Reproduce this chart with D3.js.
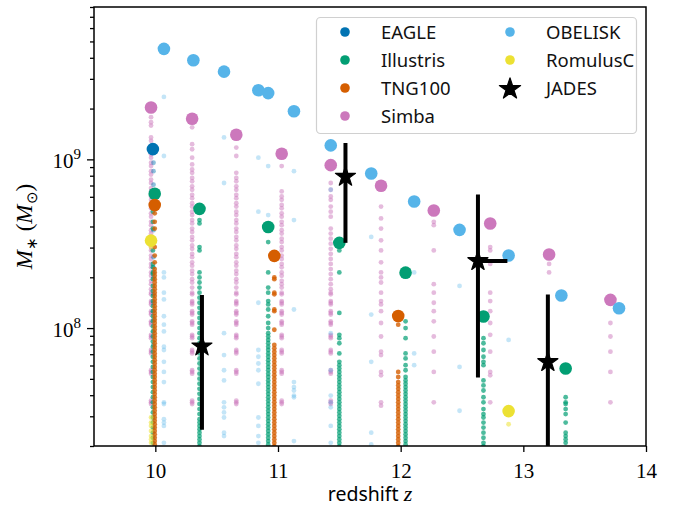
<!DOCTYPE html>
<html>
<head>
<meta charset="utf-8">
<script src="https://cdn.jsdelivr.net/npm/d3@7"></script>
<style>
  body { margin: 0; background: #fff; }
  svg { display: block; }
  .axis path.domain { display: none; }
  .axis line { stroke: #000; stroke-width: 1.3; }
  .axis text { font-family: "Liberation Serif", serif; font-size: 21px; fill: #000; }
  .legend text { font-family: "Noto Sans", sans-serif; font-size: 18.5px; fill: #111; }
</style>
</head>
<body>
<svg id="chart" width="683" height="508"></svg>
<script>
// ---- data ----
var xTicks = [10, 11, 12, 13, 14];
var yMajor = [1e8, 1e9], yMajorExp = ["8", "9"];
var yMinor = [2e7,3e7,4e7,5e7,6e7,7e7,8e7,9e7,2e8,3e8,4e8,5e8,6e8,7e8,8e8,9e8,2e9,3e9,4e9,5e9,6e9,7e9,8e9];

// medians (big dots)
var eagleZ = [9.98], eagleM = [1.15e9];
var illustrisZ = [9.995, 10.36, 10.92, 11.50, 12.04, 12.675, 13.345];
var illustrisM = [6.25e8, 5.09e8, 3.97e8, 3.2e8, 2.13e8, 1.17e8, 5.76e7];
var tngZ = [9.995, 10.97, 11.98];
var tngM = [5.36e8, 2.68e8, 1.18e8];
var simbaZ = [9.965, 10.30, 10.66, 11.03, 11.43, 11.84, 12.27, 12.73, 13.21, 13.71];
var simbaM = [2.03e9, 1.74e9, 1.40e9, 1.08e9, 9.24e8, 6.97e8, 4.98e8, 4.17e8, 2.73e8, 1.47e8];
var obeliskZ = [10.07, 10.31, 10.56, 10.84, 10.92, 11.13, 11.43, 11.76, 12.11, 12.48, 12.88, 13.31, 13.78];
var obeliskM = [4.52e9, 3.87e9, 3.31e9, 2.57e9, 2.47e9, 1.93e9, 1.21e9, 8.24e8, 5.63e8, 3.82e8, 2.69e8, 1.56e8, 1.31e8];
var romulusZ = [9.965, 12.88], romulusM = [3.3e8, 3.22e7];

// JADES galaxies with error bars
var jadesZ = [10.38, 11.55, 12.63, 13.20];
var jadesZLo = [10.38, 11.55, 12.60, 13.20];
var jadesZHi = [10.38, 11.55, 12.87, 13.20];
var jadesM = [7.8e7, 7.9e8, 2.5e8, 6.3e7];
var jadesMLo = [2.5e7, 3.2e8, 5.1e7, 1.0e7];
var jadesMHi = [1.57e8, 1.25e9, 6.2e8, 1.58e8];

// individual galaxies (log10 M*), one column per snapshot
var simbaSteps = [8.21,8.20,8.16,8.15,8.14,8.10,8.09,8.08,8.04,8.03,8.02,7.96,7.95,7.94,7.87,7.86,7.85,7.75,7.74,7.73,7.57,7.56,7.55];
var simbaCloud = [
  {z: 9.965, m: [9.25,9.22,9.20,9.13,9.11,9.08,9.06,9.03,9.01,8.98,8.96,8.93,8.91,8.88,8.86,8.83,8.81,8.78,8.76,8.73,8.71,8.68,8.66,8.63,8.61,8.58,8.56,8.53,8.51,8.48,8.46,8.43,8.41,8.38,8.36,8.33,8.31,8.28,8.26,8.23].concat(simbaSteps)},
  {z: 10.30, m: [9.19,9.09,9.06,9.01,8.97,8.94,8.92,8.89,8.87,8.84,8.82,8.79,8.77,8.74,8.72,8.69,8.67,8.64,8.62,8.59,8.57,8.54,8.52,8.49,8.47,8.44,8.42,8.39,8.37,8.34,8.32,8.29,8.27,8.24].concat(simbaSteps)},
  {z: 10.66, m: [9.07,9.02,8.92,8.89,8.87,8.84,8.82,8.79,8.77,8.74,8.72,8.69,8.67,8.64,8.62,8.59,8.57,8.54,8.52,8.49,8.47,8.44,8.42,8.39,8.37,8.34,8.32,8.29,8.27,8.24].concat(simbaSteps)},
  {z: 11.03, m: [8.96,8.81,8.78,8.76,8.73,8.71,8.68,8.66,8.63,8.61,8.58,8.56,8.53,8.51,8.48,8.46,8.43,8.41,8.38,8.36,8.33,8.31,8.28,8.26,8.24].concat(simbaSteps)},
  {z: 11.43, m: [8.96,8.86,8.82,8.78,8.76,8.72,8.69,8.66,8.59,8.56,8.53,8.50,8.47,8.44,8.41,8.38,8.35,8.32,8.29,8.26,8.23].concat(simbaSteps)},
  {z: 11.84, m: [8.72,8.65,8.59,8.52,8.46,8.39,8.33,8.30,8.27,8.21,8.16,8.14,8.10,8.03,7.95,7.86,7.84,7.74,7.72,7.56,7.54]},
  {z: 12.27, m: [8.63,8.61,8.46,8.26,8.21,8.15,8.10,8.04,7.95,7.86,7.74,7.56]},
  {z: 12.73, m: [8.48,8.46,8.38,8.21,8.16,8.10,8.03,7.96,7.86,7.74,7.72,7.56]},
  {z: 13.21, m: [8.38,8.33]},
  {z: 13.71, m: [8.03,7.95,7.86,7.74,7.56]}
];
var obeliskCloud = [
  {z: 10.07, m: [9.37,9.02,8.33,8.30,8.21,8.17,8.07,8.02,7.98,7.89,7.87,7.80,7.74,7.68,7.56,7.55,7.46,7.44,7.42,7.32]},
  {z: 10.56, m: [9.13,8.86,7.97,7.84,7.75,7.69,7.56,7.53,7.50,7.47,7.38,7.36]},
  {z: 10.84, m: [9.01,8.69,8.15,7.87,7.83,7.79,7.75,7.67,7.47,7.42,7.36,7.32]},
  {z: 10.92, m: [8.96,8.67]},
  {z: 11.13, m: [8.93,8.64,8.11,7.68,7.65,7.63,7.60,7.59,7.33]},
  {z: 11.43, m: [8.82,7.97,7.75,7.60,7.56,7.53,7.42,7.32]},
  {z: 11.76, m: [8.54,8.08,7.80,7.38,7.31]},
  {z: 12.11, m: [8.33,7.85,7.78]},
  {z: 12.48, m: [8.25,7.77,7.51]},
  {z: 12.88, m: [7.93]}
];
var eagleCloud = [
  {z: 9.985, m: [8.98,8.93,8.85,8.58,8.42,8.36,8.33,8.30,8.20,8.15,8.10,8.05,7.98,7.90]}
];
var illustrisCloud = [
  {z: 9.98, m: [8.69,8.63,8.59,8.52,8.46,8.38,8.36,8.33,8.32,8.29,8.25,8.22,8.19,8.16,8.13,8.10,8.07,8.04,8.01,7.98,7.95,7.92,7.89,7.86,7.83,7.80,7.77,7.74,7.71,7.68,7.65,7.62,7.59,7.56,7.53,7.50,7.47,7.44,7.41,7.38,7.35,7.32]},
  {z: 10.36, m: [8.64,8.62,8.48,8.46,8.33,8.30,8.27,8.24,8.21,8.18,8.15,8.12,8.09,8.06,8.03,8.00,7.97,7.94,7.91,7.88,7.85,7.82,7.79,7.76,7.73,7.70,7.67,7.64,7.61,7.58,7.55,7.52,7.49,7.46,7.44,7.42,7.40,7.38,7.36,7.34,7.32,7.30]},
  {z: 10.92, m: [8.51,8.33,8.24,8.21,8.16,8.14,8.11,8.07,8.03,8.00,7.97,7.95,7.93,7.91,7.89,7.87,7.85,7.83,7.81,7.79,7.77,7.75,7.73,7.71,7.69,7.67,7.65,7.63,7.61,7.59,7.57,7.55,7.53,7.51,7.49,7.47,7.45,7.43,7.41,7.39,7.37,7.35,7.33,7.31]},
  {z: 11.50, m: [8.46,8.33,8.09,7.96,7.94,7.91,7.85,7.80,7.78,7.76,7.74,7.72,7.70,7.68,7.66,7.64,7.62,7.60,7.58,7.56,7.54,7.52,7.50,7.48,7.46,7.44,7.42,7.40,7.38,7.36,7.34,7.32,7.30]},
  {z: 12.04, m: [8.04,8.00,7.94,7.85,7.82,7.78,7.75,7.71,7.69,7.67,7.65,7.63,7.61,7.59,7.57,7.55,7.53,7.51,7.49,7.47,7.45,7.43,7.41,7.39,7.37,7.35,7.33,7.31]},
  {z: 12.675, m: [7.94,7.91,7.87,7.83,7.80,7.78,7.69,7.66,7.63,7.59,7.56,7.52,7.49,7.47,7.44,7.41,7.38,7.35,7.32,7.30]},
  {z: 13.345, m: [7.59,7.56,7.55,7.52,7.49,7.44,7.38,7.36,7.34,7.32]}
];
var tngCloud = [
  {z: 9.995, m: [8.68,8.63,8.59,8.48,8.43,8.39,8.35,8.33,8.31,8.29,8.27,8.25,8.23,8.21,8.19,8.17,8.15,8.13,8.11,8.09,8.07,8.05,8.03,8.01,7.99,7.97,7.95,7.93,7.91,7.89,7.87,7.85,7.83,7.81,7.79,7.77,7.75,7.73,7.71,7.69,7.67,7.65,7.63,7.61,7.59,7.57,7.55,7.53,7.51,7.49,7.47,7.45,7.43,7.41,7.39,7.37,7.35,7.33,7.31]},
  {z: 10.97, m: [8.30,8.29,8.21,8.20,8.11,8.10,7.99,7.90,7.88,7.86,7.84,7.82,7.80,7.78,7.76,7.74,7.72,7.70,7.68,7.66,7.64,7.62,7.60,7.58,7.56,7.54,7.52,7.50,7.48,7.46,7.44,7.42,7.40,7.38,7.36,7.34,7.32,7.30]},
  {z: 11.98, m: [8.02,7.74,7.71,7.68,7.66,7.64,7.62,7.60,7.58,7.56,7.54,7.52,7.50,7.48,7.46,7.44,7.42,7.40,7.38,7.36,7.34,7.32,7.30]}
];
var romulusCloud = [
  {z: 9.965, m: [8.48,7.47,7.44,7.42,7.39,7.36,7.34,7.32]},
  {z: 12.88, m: [7.43]}
];

var colors = {EAGLE: "#0173b2", Illustris: "#029e73", TNG100: "#d55e00", Simba: "#cc78bc", OBELISK: "#56b4e9", RomulusC: "#ece133"};

// ---- layout ----
var svg = d3.select("#chart"),
    margin = {top: 7, right: 37, bottom: 62, left: 94},
    width = +svg.attr("width") - margin.left - margin.right,
    height = +svg.attr("height") - margin.top - margin.bottom,
    g = svg.append("g").attr("transform", "translate(" + margin.left + "," + margin.top + ")");

var x = d3.scaleLinear().domain([9.5, 14]).range([0, width]);
var y = d3.scaleLog().domain([2e7, 8e9]).range([height, 0]);

g.append("defs").append("clipPath")
    .attr("id", "clip")
  .append("rect")
    .attr("width", width)
    .attr("height", height);

var plot = g.append("g").attr("clip-path", "url(#clip)");

// clouds of individual galaxies
function cloud(cols, name, alpha) {
  var pts = [];
  cols.forEach(function(c) {
    c.m.forEach(function(v) { pts.push({z: c.z, m: Math.pow(10, v)}); });
  });
  plot.append("g").selectAll("circle")
    .data(pts)
    .enter().append("circle")
      .attr("cx", function(d) { return x(d.z); })
      .attr("cy", function(d) { return y(d.m); })
      .attr("r", 2.4)
      .attr("fill", colors[name])
      .attr("fill-opacity", alpha);
}
cloud(simbaCloud, "Simba", 0.5);
cloud(obeliskCloud, "OBELISK", 0.35);
cloud(eagleCloud, "EAGLE", 0.45);
cloud(illustrisCloud, "Illustris", 0.7);
cloud(tngCloud, "TNG100", 0.8);
cloud(romulusCloud, "RomulusC", 0.55);

// big dots
function dots(zs, ms, name) {
  plot.append("g").selectAll("circle")
    .data(d3.zip(zs, ms))
    .enter().append("circle")
      .attr("cx", function(d) { return x(d[0]); })
      .attr("cy", function(d) { return y(d[1]); })
      .attr("r", 6.3)
      .attr("fill", colors[name]);
}
dots(eagleZ, eagleM, "EAGLE");
dots(illustrisZ, illustrisM, "Illustris");
dots(tngZ, tngM, "TNG100");
dots(simbaZ, simbaM, "Simba");
dots(obeliskZ, obeliskM, "OBELISK");
dots(romulusZ, romulusM, "RomulusC");

// JADES error bars + stars
var jades = jadesZ.map(function(z, i) {
  return {z: z, m: jadesM[i], mlo: jadesMLo[i], mhi: jadesMHi[i], zlo: jadesZLo[i], zhi: jadesZHi[i]};
});
var jg = plot.append("g");
jg.selectAll("line.v").data(jades).enter().append("line")
    .attr("x1", function(d) { return x(d.z); })
    .attr("x2", function(d) { return x(d.z); })
    .attr("y1", function(d) { return y(d.mlo); })
    .attr("y2", function(d) { return y(d.mhi); })
    .attr("stroke", "#000").attr("stroke-width", 4);
jg.selectAll("line.h").data(jades).enter().append("line")
    .attr("x1", function(d) { return x(d.zlo); })
    .attr("x2", function(d) { return x(d.zhi); })
    .attr("y1", function(d) { return y(d.m); })
    .attr("y2", function(d) { return y(d.m); })
    .attr("stroke", "#000").attr("stroke-width", 4);
var star = d3.symbol().type(d3.symbolStar).size(125);
jg.selectAll("path").data(jades).enter().append("path")
    .attr("d", star)
    .attr("transform", function(d) { return "translate(" + x(d.z) + "," + y(d.m) + ")"; })
    .attr("fill", "#000")
    .attr("stroke", "#000")
    .attr("stroke-width", 1.2)
    .attr("stroke-linejoin", "round");

// ---- axes ----
var xAxis = g.append("g")
    .attr("class", "axis")
    .attr("transform", "translate(0," + height + ")")
    .call(d3.axisBottom(x).tickValues(xTicks).tickSize(6).tickPadding(6).tickFormat(d3.format("d")));
xAxis.selectAll("text").attr("dy", "0.95em");

g.append("g")
    .attr("class", "axis")
    .call(d3.axisLeft(y).tickValues(yMinor).tickSize(4).tickFormat(""));

var yAxis = g.append("g")
    .attr("class", "axis")
    .call(d3.axisLeft(y).tickValues(yMajor).tickSize(7).tickFormat(""));
yAxis.selectAll(".tick").each(function(d, i) {
  var t = d3.select(this).append("text")
      .attr("x", -13).attr("y", 8)
      .attr("text-anchor", "end");
  t.append("tspan").text("10");
  t.append("tspan").attr("dy", -9).attr("font-size", 15).text(yMajorExp[i]);
});

g.append("rect")
    .attr("width", width)
    .attr("height", height)
    .attr("fill", "none")
    .attr("stroke", "#000")
    .attr("stroke-width", 1.5);

// axis labels
var xl = svg.append("text")
    .attr("x", margin.left + width / 2)
    .attr("y", 501)
    .attr("text-anchor", "middle")
    .attr("font-family", "Noto Sans, sans-serif")
    .attr("font-size", 19.5);
xl.append("tspan").text("redshift ");
xl.append("tspan").attr("font-family", "Liberation Serif, serif").attr("font-style", "italic").attr("font-size", 22).text("z");

var yl = svg.append("text")
    .attr("transform", "translate(32," + (margin.top + height / 2) + ") rotate(-90)")
    .attr("text-anchor", "middle")
    .attr("font-family", "Liberation Serif, serif")
    .attr("font-size", 23);
yl.append("tspan").attr("font-style", "italic").text("M");
yl.append("tspan").attr("font-size", 15).attr("dy", 5).text("\u2217");
yl.append("tspan").attr("dy", -5).text(" (");
yl.append("tspan").attr("font-style", "italic").text("M");
yl.append("tspan").attr("font-size", 15).attr("dy", 5).text("\u2299");
yl.append("tspan").attr("dy", -5).text(")");

// ---- legend ----
var legend = svg.append("g").attr("class", "legend");
legend.append("rect")
    .attr("x", 316.5).attr("y", 17.5)
    .attr("width", 320).attr("height", 116)
    .attr("rx", 4)
    .attr("fill", "#fff").attr("fill-opacity", 0.85)
    .attr("stroke", "#d0d0d0").attr("stroke-width", 1.2);

var legendItems = ["EAGLE", "Illustris", "TNG100", "Simba", "OBELISK", "RomulusC", "JADES"];
legendItems.forEach(function(name, i) {
  var col = i < 4 ? 0 : 1, row = i < 4 ? i : i - 4;
  var mx = col ? 510 : 345, ty = 32 + row * 28;
  if (name === "JADES") {
    legend.append("path")
        .attr("d", d3.symbol().type(d3.symbolStar).size(140))
        .attr("transform", "translate(" + mx + "," + (ty + 1) + ")")
        .attr("fill", "#000")
        .attr("stroke", "#000")
        .attr("stroke-width", 1.2)
        .attr("stroke-linejoin", "round");
  } else {
    legend.append("circle").attr("cx", mx).attr("cy", ty).attr("r", 4.8).attr("fill", colors[name]);
  }
  legend.append("text").attr("x", col ? 546 : 381).attr("y", ty + 6.5).text(name);
});
</script>
</body>
</html>
